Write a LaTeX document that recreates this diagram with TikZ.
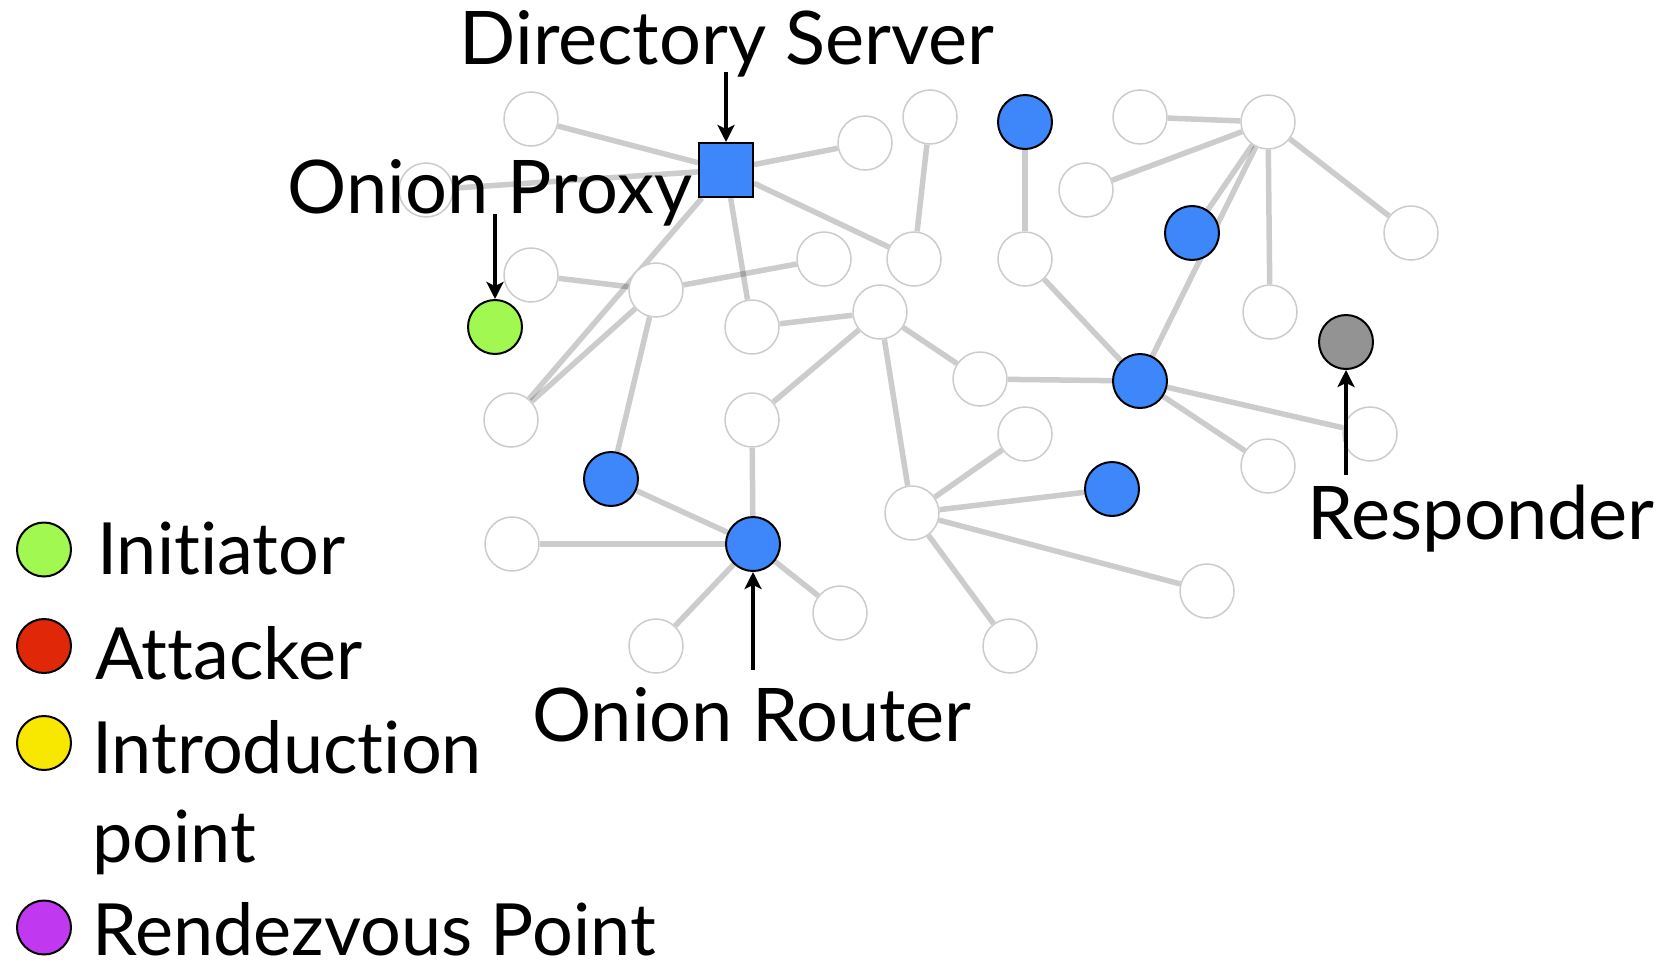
\documentclass[tikz,border=0pt]{standalone}
\usepackage{fontspec}
\setmainfont{Lato}[Ligatures={NoCommon}]
\usetikzlibrary{arrows.meta}
\pgfdeclarelayer{paper}
\pgfdeclarelayer{bg}
\pgfsetlayers{paper,bg,main}
\definecolor{orblue}{RGB}{62,135,250}
\definecolor{initgreen}{RGB}{160,248,80}
\definecolor{respgray}{RGB}{147,147,147}
\definecolor{attred}{RGB}{224,40,8}
\definecolor{introyellow}{RGB}{248,232,0}
\definecolor{rendpurple}{RGB}{192,56,240}
\begin{document}
\begin{tikzpicture}[x=1pt,y=-1pt,
  relay/.style={circle, minimum size=54pt, inner sep=0pt, draw=black!20, line width=1.5pt, fill=white},
  hot/.style={circle, minimum size=54pt, inner sep=0pt, draw=black, line width=2pt, fill=#1},
  link/.style={line width=5.5pt, draw=black, draw opacity=0.2},
  lbl/.style={anchor=base, inner sep=0pt, font=\fontsize{74pt}{88pt}\selectfont},
  leg/.style={anchor=base west, inner sep=0pt, font=\fontsize{72pt}{86pt}\selectfont},
  pointer/.style={line width=4.5pt, -{Stealth[length=17pt,width=17pt,inset=4pt]}}
]
\useasboundingbox (0,0) rectangle (1662,964);
\clip (0,0) rectangle (1662,964);
\begin{pgfonlayer}{paper}
\fill[white] (0,0) rectangle (1662,964);
\end{pgfonlayer}

% relays (white)
\node[relay] (a)  at (531,119) {};
\node[relay] (b)  at (426,190) {};
\node[relay] (c)  at (865,143) {};
\node[relay] (d)  at (930,117) {};
\node[relay] (e)  at (531,275) {};
\node[relay] (f)  at (656,290) {};
\node[relay] (h)  at (824,259) {};
\node[relay] (i)  at (914,259) {};
\node[relay] (j)  at (752,327) {};
\node[relay] (k)  at (880,312) {};
\node[relay] (l)  at (511,420) {};
\node[relay] (m)  at (752,420) {};
\node[relay] (t)  at (1025,259) {};
\node[relay] (o)  at (1140,117) {};
\node[relay] (p)  at (1268,122) {};
\node[relay] (q)  at (1086,190) {};
\node[relay] (s)  at (1411,233) {};
\node[relay] (u)  at (1270,312) {};
\node[relay] (v)  at (980,379) {};
\node[relay] (xx) at (1025,434) {};
\node[relay] (yy) at (1370,434) {};
\node[relay] (z)  at (1268,466) {};
\node[relay] (aa) at (512,544) {};
\node[relay] (bb) at (912,513) {};
\node[relay] (dd) at (1207,591) {};
\node[relay] (ee) at (1010,646) {};
\node[relay] (ff) at (656,646) {};
\node[relay] (gg) at (840,613) {};

% onion routers (blue)
\node[hot=orblue] (n1)  at (1025,122) {};
\node[hot=orblue] (r)   at (1192,233) {};
\node[hot=orblue] (w)   at (1140,381) {};
\node[hot=orblue] (bl1) at (611,479) {};
\node[hot=orblue] (bl2) at (753,544) {};
\node[hot=orblue] (cc)  at (1112,489) {};

% initiator, responder, directory server
\node[hot=initgreen] (init) at (495,327) {};
\node[hot=respgray] (resp) at (1346,342) {};
\node[rectangle, minimum width=54pt, minimum height=54pt, inner sep=0pt, draw=black, line width=2pt, fill=orblue] (ds) at (726,170) {};

% links
\begin{pgfonlayer}{bg}
\foreach \u/\v in {a/ds, b/ds, ds/c, ds/i, ds/j, ds/l, d/i, e/f, f/h, f/l, f/bl1,
                   j/k, k/m, k/bb, k/v, n1/t, o/p, q/p, p/r, p/w, p/u, p/s,
                   t/w, v/w, w/yy, w/z, m/bl2, bl1/bl2, aa/bl2, bl2/ff, bl2/gg,
                   bb/xx, bb/cc, bb/dd, bb/ee}
  \draw[link] (\u) -- (\v);
\end{pgfonlayer}

% labels
\node[lbl] (lds) at (727,64) {Directory Server};
\node[lbl] (lop) at (490,213) {Onion Proxy};
\node[lbl] (lor) at (752,741) {Onion Router};
\node[lbl] (lrs) at (1481,539) {Responder};

% pointer arrows
\coordinate (dsfrom) at (726,72);
\coordinate (opfrom) at (495,214);
\coordinate (orfrom) at (753,670);
\coordinate (rsfrom) at (1346,475);
\draw[pointer] (dsfrom) -- (ds);
\draw[pointer] (opfrom) -- (init);
\draw[pointer] (orfrom) -- (bl2);
\draw[pointer] (rsfrom) -- (resp);

% legend
\node[hot=initgreen]   (k1) at (44,549.5) {};
\node[hot=attred]      (k2) at (44,646) {};
\node[hot=introyellow] (k3) at (44,743) {};
\node[hot=rendpurple]  (k4) at (44,927.5) {};
\node[leg] (t1) at (97,574) {Initiator};
\node[leg] (t2) at (95,679) {Attacker};
\node[leg] (t3) at (92,773) {Introduction};
\node[leg] (t4) at (92,862) {point};
\node[leg] (t5) at (92,955) {Rendezvous Point};
\end{tikzpicture}
\end{document}
